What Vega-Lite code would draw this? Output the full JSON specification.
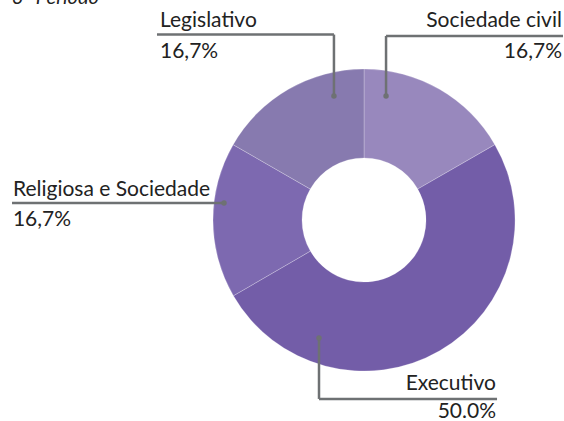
{
  "$schema": "https://vega.github.io/schema/vega-lite/v6.json",
  "width": 564,
  "height": 421,
  "autosize": {"type": "none"},
  "padding": 0,
  "background": "#ffffff",
  "config": {"view": {"stroke": null}, "text": {"font": "Lato", "fontSize": 21, "fontWeight": 400, "color": "#222222"}},
  "datasets": {
    "fatias": [
      {"grupo": "Sociedade civil", "percentual": 16.7, "ordem": 1},
      {"grupo": "Executivo", "percentual": 50.0, "ordem": 2},
      {"grupo": "Religiosa e Sociedade", "percentual": 16.7, "ordem": 3},
      {"grupo": "Legislativo", "percentual": 16.7, "ordem": 4}
    ],
    "guias": [
      {"x": -137.1, "y": 122.8, "x2": -19.9, "y2": 122.8},
      {"x": -19.9, "y": 122.8, "x2": -19.9, "y2": 82.1},
      {"x": 14.6, "y": 82.1, "x2": 14.6, "y2": 121.9},
      {"x": 14.6, "y": 121.9, "x2": 131.8, "y2": 121.9},
      {"x": -233.1, "y": 11.3, "x2": -92.7, "y2": 11.3},
      {"x": -29.8, "y": -78.1, "x2": -29.8, "y2": -118.5},
      {"x": -29.8, "y": -118.5, "x2": 88.1, "y2": -118.5}
    ],
    "pontos": [
      {"x": -19.9, "y": 82.1},
      {"x": 14.6, "y": 82.1},
      {"x": -92.7, "y": 11.3},
      {"x": -29.8, "y": -78.1}
    ],
    "rotulos_esq": [
      {"texto": "Legislativo", "x": -135.1, "y": 128.0},
      {"texto": "16,7%", "x": -135.1, "y": 107.0},
      {"texto": "Religiosa e Sociedade", "x": -232.5, "y": 15.9},
      {"texto": "16,7%", "x": -232.5, "y": -4.0}
    ],
    "rotulos_dir": [
      {"texto": "Sociedade civil", "x": 131.1, "y": 128.0},
      {"texto": "16,7%", "x": 131.1, "y": 107.0},
      {"texto": "Executivo", "x": 87.4, "y": -112.6},
      {"texto": "50.0%", "x": 87.4, "y": -131.3}
    ],
    "titulo": [
      {"texto": "3º Período", "x": -233.1, "y": 143.0}
    ]
  },
  "layer": [
    {
      "data": {"name": "fatias"},
      "mark": {"type": "arc", "outerRadius": 151, "innerRadius": 62, "stroke": "#ffffff", "strokeWidth": 0.4, "strokeOpacity": 0.6},
      "encoding": {
        "x": {"datum": 0, "type": "quantitative", "scale": {"domain": [-241.06, 132.45], "nice": false, "zero": false}, "axis": null},
        "y": {"datum": 0, "type": "quantitative", "scale": {"domain": [-133.11, 145.7], "nice": false, "zero": false}, "axis": null},
        "theta": {"field": "percentual", "type": "quantitative", "stack": true},
        "order": {"field": "ordem", "type": "quantitative"},
        "color": {
          "field": "grupo", "type": "nominal", "legend": null,
          "scale": {
            "domain": ["Sociedade civil", "Executivo", "Religiosa e Sociedade", "Legislativo"],
            "range": ["#9888bd", "#735da8", "#7d69b0", "#877aaf"]
          }
        }
      }
    },
    {
      "data": {"name": "guias"},
      "mark": {"type": "rule", "color": "#6e7173", "strokeWidth": 2.5},
      "encoding": {
        "x": {"field": "x", "type": "quantitative", "scale": {"domain": [-241.06, 132.45], "nice": false, "zero": false}, "axis": null},
        "y": {"field": "y", "type": "quantitative", "scale": {"domain": [-133.11, 145.7], "nice": false, "zero": false}, "axis": null},
        "x2": {"field": "x2"},
        "y2": {"field": "y2"}
      }
    },
    {
      "data": {"name": "pontos"},
      "mark": {"type": "circle", "color": "#6e7173", "opacity": 1, "size": 30},
      "encoding": {
        "x": {"field": "x", "type": "quantitative", "scale": {"domain": [-241.06, 132.45], "nice": false, "zero": false}, "axis": null},
        "y": {"field": "y", "type": "quantitative", "scale": {"domain": [-133.11, 145.7], "nice": false, "zero": false}, "axis": null}
      }
    },
    {
      "data": {"name": "rotulos_esq"},
      "mark": {"type": "text", "align": "left", "baseline": "alphabetic"},
      "encoding": {
        "x": {"field": "x", "type": "quantitative", "scale": {"domain": [-241.06, 132.45], "nice": false, "zero": false}, "axis": null},
        "y": {"field": "y", "type": "quantitative", "scale": {"domain": [-133.11, 145.7], "nice": false, "zero": false}, "axis": null},
        "text": {"field": "texto"}
      }
    },
    {
      "data": {"name": "rotulos_dir"},
      "mark": {"type": "text", "align": "right", "baseline": "alphabetic"},
      "encoding": {
        "x": {"field": "x", "type": "quantitative", "scale": {"domain": [-241.06, 132.45], "nice": false, "zero": false}, "axis": null},
        "y": {"field": "y", "type": "quantitative", "scale": {"domain": [-133.11, 145.7], "nice": false, "zero": false}, "axis": null},
        "text": {"field": "texto"}
      }
    },
    {
      "data": {"name": "titulo"},
      "mark": {"type": "text", "align": "left", "baseline": "alphabetic", "fontStyle": "italic", "fontSize": 20},
      "encoding": {
        "x": {"field": "x", "type": "quantitative", "scale": {"domain": [-241.06, 132.45], "nice": false, "zero": false}, "axis": null},
        "y": {"field": "y", "type": "quantitative", "scale": {"domain": [-133.11, 145.7], "nice": false, "zero": false}, "axis": null},
        "text": {"field": "texto"}
      }
    }
  ]
}
